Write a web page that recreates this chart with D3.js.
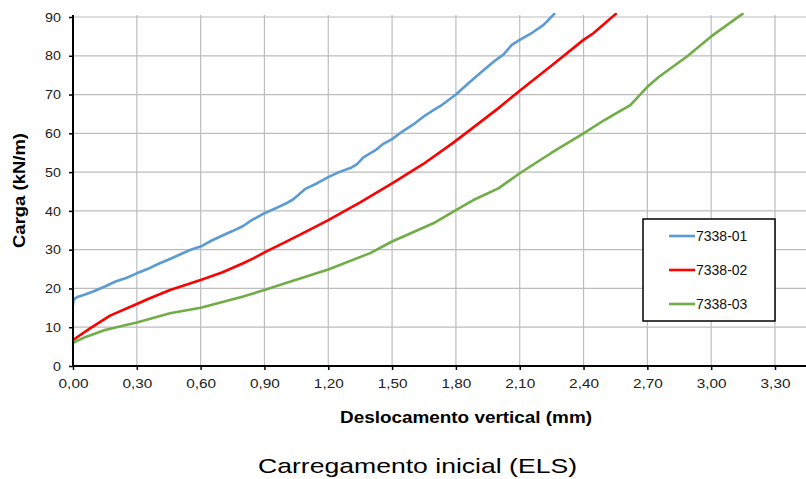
<html>
<head>
<style>
  body { margin: 0; background: #fff; }
  svg { font-family: "Liberation Sans", Arial, sans-serif; }
  .grid line { stroke: #bdbdbd; stroke-width: 1.2; }
  .axis path, .axis line { stroke: #000; }
  .axis text { fill: #222; }
  .serie { fill: none; stroke-width: 2.6; stroke-linejoin: round; }
</style>
<script src="https://d3js.org/d3.v7.min.js"></script>
</head>
<body>
<svg width="806" height="479"></svg>
<script>
// deslocamento (mm) / carga (kN/m)
const blueX = [0.000, 0.003, 0.02, 0.05, 0.095, 0.15, 0.20, 0.25, 0.30, 0.35, 0.40, 0.456, 0.50, 0.55, 0.60, 0.65, 0.70, 0.75, 0.80, 0.84, 0.90, 0.95, 1.00, 1.036, 1.09, 1.15, 1.20, 1.25, 1.31, 1.334, 1.365, 1.42, 1.459, 1.50, 1.546, 1.60, 1.65, 1.70, 1.726, 1.80, 1.86, 1.92, 1.98, 2.023, 2.063, 2.10, 2.16, 2.211, 2.266];
const blueY = [15.8, 17.2, 17.8, 18.3, 19.2, 20.5, 21.8, 22.7, 23.9, 25.0, 26.3, 27.6, 28.7, 29.9, 30.8, 32.3, 33.6, 34.8, 36.1, 37.6, 39.4, 40.6, 41.9, 43.0, 45.6, 47.2, 48.7, 50.0, 51.2, 52.0, 53.8, 55.6, 57.3, 58.5, 60.4, 62.3, 64.4, 66.2, 67.0, 70.0, 73.0, 75.8, 78.6, 80.3, 82.8, 84.1, 86.0, 87.9, 91.0];

const redX = [0.000, 0.08, 0.174, 0.30, 0.35, 0.456, 0.60, 0.70, 0.80, 0.85, 0.90, 1.00, 1.10, 1.20, 1.35, 1.50, 1.647, 1.788, 1.867, 2.00, 2.10, 2.25, 2.40, 2.446, 2.556];
const redY = [6.7, 9.7, 13.0, 16.0, 17.2, 19.6, 22.2, 24.1, 26.5, 27.8, 29.3, 32.0, 34.8, 37.6, 42.2, 47.1, 52.1, 57.6, 60.9, 66.5, 71.0, 77.5, 84.1, 85.8, 91.0];

const greenX = [0.000, 0.06, 0.15, 0.30, 0.456, 0.60, 0.80, 0.90, 0.99, 1.20, 1.397, 1.50, 1.694, 1.80, 1.882, 2.00, 2.10, 2.25, 2.40, 2.50, 2.62, 2.70, 2.755, 2.886, 3.00, 3.152];
const greenY = [6.0, 7.5, 9.3, 11.2, 13.6, 15.0, 17.9, 19.6, 21.2, 24.9, 29.1, 32.1, 36.8, 40.2, 42.8, 45.8, 49.7, 55.0, 60.0, 63.5, 67.3, 72.0, 74.6, 79.8, 85.0, 91.0];

const seriesNames = ["7338-01", "7338-02", "7338-03"];
const seriesColors = ["#5b9bd5", "#ff0000", "#70ad47"];
const xTicks = [0, 0.3, 0.6, 0.9, 1.2, 1.5, 1.8, 2.1, 2.4, 2.7, 3.0, 3.3];
const yTicks = [0, 10, 20, 30, 40, 50, 60, 70, 80, 90];

const svg = d3.select("svg");
const pLeft = 73, pRight = 806, pTop = 15, pBottom = 366;

const xs = d3.scaleLinear().domain([0, 3.3]).range([pLeft, 775]);
const ys = d3.scaleLinear().domain([0, 90]).range([pBottom, 17]);
const fmt = d => d3.format(".2f")(d).replace(".", ",");

// the source picture is a little wider than its fonts
function widen(sel, k) {
  sel.each(function() {
    const w = this.getComputedTextLength();
    d3.select(this).attr("textLength", w * k).attr("lengthAdjust", "spacingAndGlyphs");
  });
}

svg.append("defs").append("clipPath").attr("id", "plot")
  .append("rect").attr("x", pLeft).attr("y", pTop - 2).attr("width", pRight - pLeft).attr("height", pBottom - pTop + 2);

// grid
const grid = svg.append("g").attr("class", "grid");
grid.selectAll(".v").data(xTicks.slice(1)).enter().append("line")
  .attr("x1", d => xs(d)).attr("x2", d => xs(d)).attr("y1", pTop).attr("y2", pBottom);
grid.selectAll(".h").data(yTicks.slice(1)).enter().append("line")
  .attr("x1", pLeft).attr("x2", pRight).attr("y1", d => ys(d)).attr("y2", d => ys(d));

// series
const data = [
  blueX.map((x, i) => [x, blueY[i]]),
  redX.map((x, i) => [x, redY[i]]),
  greenX.map((x, i) => [x, greenY[i]])
];
const line = d3.line().x(d => xs(d[0])).y(d => ys(d[1]));
svg.append("g").attr("clip-path", "url(#plot)")
  .selectAll("path").data(data).enter().append("path")
  .attr("class", "serie")
  .attr("stroke", (d, i) => seriesColors[i])
  .attr("d", line);

// axes
const xAxis = svg.append("g").attr("class", "axis")
  .attr("transform", "translate(0," + pBottom + ")")
  .call(d3.axisBottom(xs).tickValues(xTicks).tickFormat(fmt).tickSize(4).tickSizeOuter(0));
xAxis.select(".domain").attr("d", "M" + pLeft + ",0H" + pRight).attr("stroke-width", 2);
xAxis.selectAll(".tick line").attr("stroke-width", 1.5);
xAxis.selectAll("text").attr("font-size", 12).attr("y", 22).attr("dy", 0).call(widen, 1.28);

const yAxis = svg.append("g").attr("class", "axis")
  .attr("transform", "translate(" + pLeft + ",0)")
  .call(d3.axisLeft(ys).tickValues(yTicks).tickSize(4).tickSizeOuter(0));
yAxis.select(".domain").attr("d", "M0," + pTop + "V" + pBottom).attr("stroke-width", 2);
yAxis.selectAll(".tick line").attr("stroke-width", 1.5);
yAxis.selectAll("text").attr("font-size", 13).attr("x", -12).call(widen, 1.1);

// titles
svg.append("text")
  .attr("transform", "translate(24.5,190.5) rotate(-90)")
  .attr("text-anchor", "middle")
  .attr("font-size", 16).attr("font-weight", "bold")
  .attr("textLength", 115).attr("lengthAdjust", "spacingAndGlyphs")
  .text("Carga (kN/m)");

svg.append("text")
  .attr("x", 466).attr("y", 423)
  .attr("text-anchor", "middle")
  .attr("font-size", 16).attr("font-weight", "bold")
  .attr("textLength", 252).attr("lengthAdjust", "spacingAndGlyphs")
  .text("Deslocamento vertical (mm)");

svg.append("text")
  .attr("x", 417.5).attr("y", 473)
  .attr("text-anchor", "middle")
  .attr("font-size", 21)
  .attr("textLength", 319).attr("lengthAdjust", "spacingAndGlyphs")
  .text("Carregamento inicial (ELS)");

// legend
const legend = svg.append("g");
legend.append("rect")
  .attr("x", 643).attr("y", 219).attr("width", 132).attr("height", 102)
  .attr("fill", "#fff").attr("stroke", "#000").attr("stroke-width", 1.5);
const items = legend.selectAll(".item").data(seriesNames).enter().append("g")
  .attr("transform", (d, i) => "translate(0," + (236 + i * 34) + ")");
items.append("line")
  .attr("x1", 669).attr("x2", 695).attr("y1", 0).attr("y2", 0)
  .attr("stroke", (d, i) => seriesColors[i]).attr("stroke-width", 2.6);
items.append("text")
  .attr("x", 696).attr("y", 0).attr("dy", "0.36em")
  .attr("font-size", 14).attr("fill", "#111")
  .text(d => d);
</script>
</body>
</html>
